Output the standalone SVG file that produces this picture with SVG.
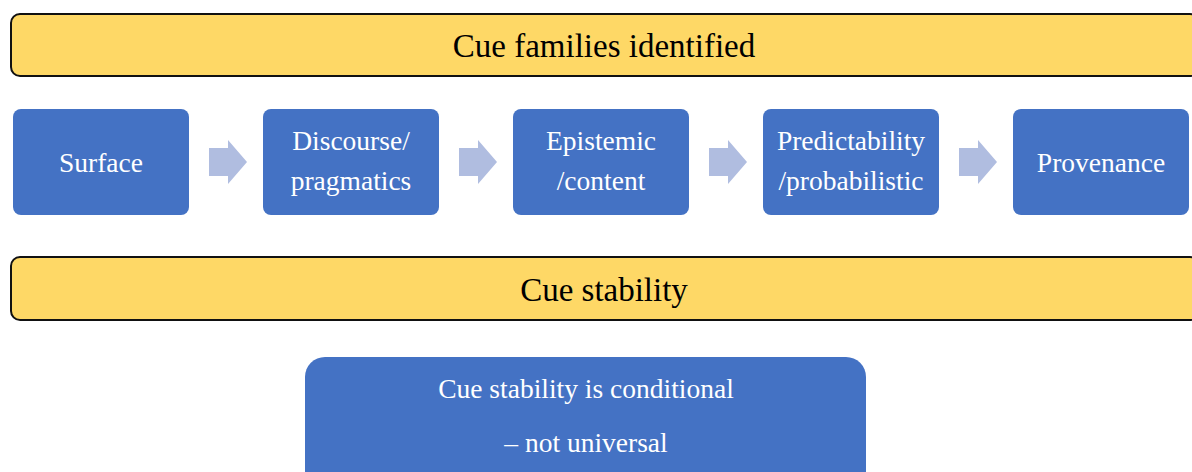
<svg xmlns="http://www.w3.org/2000/svg" width="1192" height="472" viewBox="0 0 1192 472">
<style>
.bar{fill:#FED866;stroke:#111;stroke-width:2}
.box{fill:#4472C4}
.arr{fill:#B0BDE0}
.tt{font-family:'Liberation Serif','Times New Roman',serif;font-size:33px;fill:#000;text-anchor:middle}
.bt{font-family:'Liberation Serif','Times New Roman',serif;font-size:27.5px;fill:#fff;text-anchor:middle}
</style>
<rect width="1192" height="472" fill="#fff"/>
<g id="title1">
<rect class="bar" x="11" y="14" width="1188" height="62" rx="9"/>
<text class="tt" x="604" y="57">Cue families identified</text>
</g>
<g id="connectors">
<path class="arr" d="M209,148 H228 V140 L247,162 L228,184 V176 H209 Z"/>
<path class="arr" d="M459,148 H478 V140 L497,162 L478,184 V176 H459 Z"/>
<path class="arr" d="M709,148 H728 V140 L747,162 L728,184 V176 H709 Z"/>
<path class="arr" d="M959,148 H978 V140 L997,162 L978,184 V176 H959 Z"/>
</g>
<g id="surface">
<rect class="box" x="13" y="109" width="176" height="106" rx="8"/>
<text class="bt" x="101" y="172">Surface</text>
</g>
<g id="discourse">
<rect class="box" x="263" y="109" width="176" height="106" rx="8"/>
<text class="bt" x="351" y="150">Discourse/</text>
<text class="bt" x="351" y="190">pragmatics</text>
</g>
<g id="epistemic">
<rect class="box" x="513" y="109" width="176" height="106" rx="8"/>
<text class="bt" x="601" y="150">Epistemic</text>
<text class="bt" x="601" y="190">/content</text>
</g>
<g id="predictability">
<rect class="box" x="763" y="109" width="176" height="106" rx="8"/>
<text class="bt" x="851" y="150">Predictability</text>
<text class="bt" x="851" y="190">/probabilistic</text>
</g>
<g id="provenance">
<rect class="box" x="1013" y="109" width="176" height="106" rx="8"/>
<text class="bt" x="1101" y="172">Provenance</text>
</g>
<g id="title2">
<rect class="bar" x="11" y="257" width="1188" height="63" rx="9"/>
<text class="tt" x="604" y="301">Cue stability</text>
</g>
<g id="conclusion">
<rect class="box" x="305" y="357" width="561" height="140" rx="20"/>
<text class="bt" x="586" y="398">Cue stability is conditional</text>
<text class="bt" x="586" y="452">– not universal</text>
</g>
</svg>
